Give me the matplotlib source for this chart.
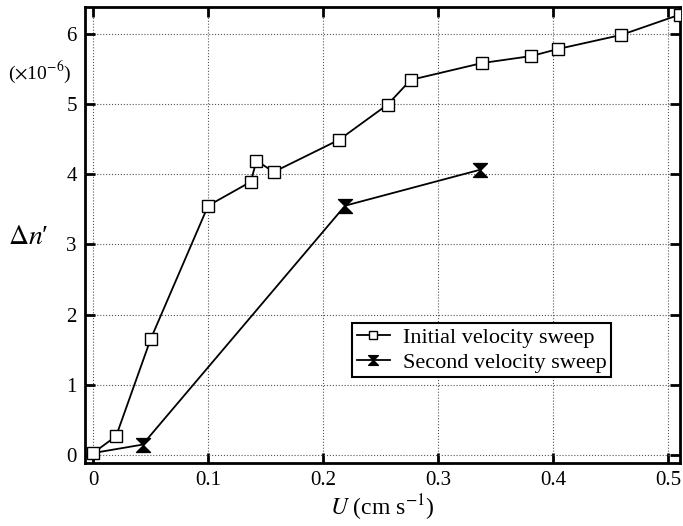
import matplotlib
matplotlib.use("Agg")
import matplotlib.pyplot as plt
from matplotlib.path import Path
import numpy as np

plt.rcParams['font.family'] = ['Liberation Serif', 'DejaVu Serif']
plt.rcParams['mathtext.fontset'] = 'stix'

u_init = [0.0, 0.02, 0.05, 0.10, 0.137, 0.142, 0.157, 0.214, 0.256, 0.276, 0.338, 0.381, 0.404, 0.459, 0.51]
dn_init = [0.03, 0.27, 1.65, 3.55, 3.89, 4.19, 4.03, 4.49, 4.99, 5.34, 5.58, 5.68, 5.78, 5.98, 6.27]
u_second = [0.0, 0.043, 0.219, 0.336]
dn_second = [0.03, 0.15, 3.55, 4.06]

xticks = [0, 0.1, 0.2, 0.3, 0.4, 0.5]
xticklabels = ['0', '0.1', '0.2', '0.3', '0.4', '0.5']
yticks = [0, 1, 2, 3, 4, 5, 6]

hourglass = Path([(-1, 1), (1, 1), (0, 0), (1, -1), (-1, -1), (0, 0), (-1, 1)],
                 [Path.MOVETO, Path.LINETO, Path.LINETO, Path.LINETO, Path.LINETO, Path.LINETO, Path.CLOSEPOLY])

fig = plt.figure(figsize=(6.83, 5.26), dpi=100)
ax = fig.add_axes([0.1245, 0.12, 0.871, 0.867])

ax.plot(u_second, dn_second, '-', color='black', lw=1.3, marker=hourglass, ms=10,
        mfc='black', mec='black', markevery=[1, 2, 3], label='Second velocity sweep', zorder=2)
ax.plot(u_init, dn_init, '-', color='black', lw=1.3, marker='s', ms=9,
        mfc='white', mec='black', mew=1.0, label='Initial velocity sweep', zorder=3)

ax.set_xlim(-0.007, 0.51)
ax.set_ylim(-0.11, 6.38)
ax.set_xticks(xticks)
ax.set_xticklabels(xticklabels)
ax.set_yticks(yticks)
ax.grid(True, linestyle=':', color='#555555', lw=0.8)
ax.tick_params(direction='in', length=7, width=2, top=True, right=True, labelsize=15, pad=6)
for s in ax.spines.values():
    s.set_linewidth(2)

ax.set_xlabel(r'$U$ (cm s$^{-1}$)', fontsize=17, labelpad=2)
fig.text(0.041, 0.548, r"$\Delta n$′", fontsize=20, ha='center', va='center')
fig.text(0.058, 0.863, r'($\times$10$^{-6}$)', fontsize=14, ha='center', va='center')

handles, labels = ax.get_legend_handles_labels()
leg = ax.legend(handles[::-1], labels[::-1], loc='upper left', bbox_to_anchor=(0.449, 0.307),
                fontsize=16, frameon=True, markerscale=0.7,
                fancybox=False, edgecolor='black', framealpha=1, borderpad=0.2,
                handlelength=1.5, handletextpad=0.6, labelspacing=0.2, borderaxespad=0)
leg.get_frame().set_linewidth(1.5)

fig.savefig('out.png', dpi=100)
